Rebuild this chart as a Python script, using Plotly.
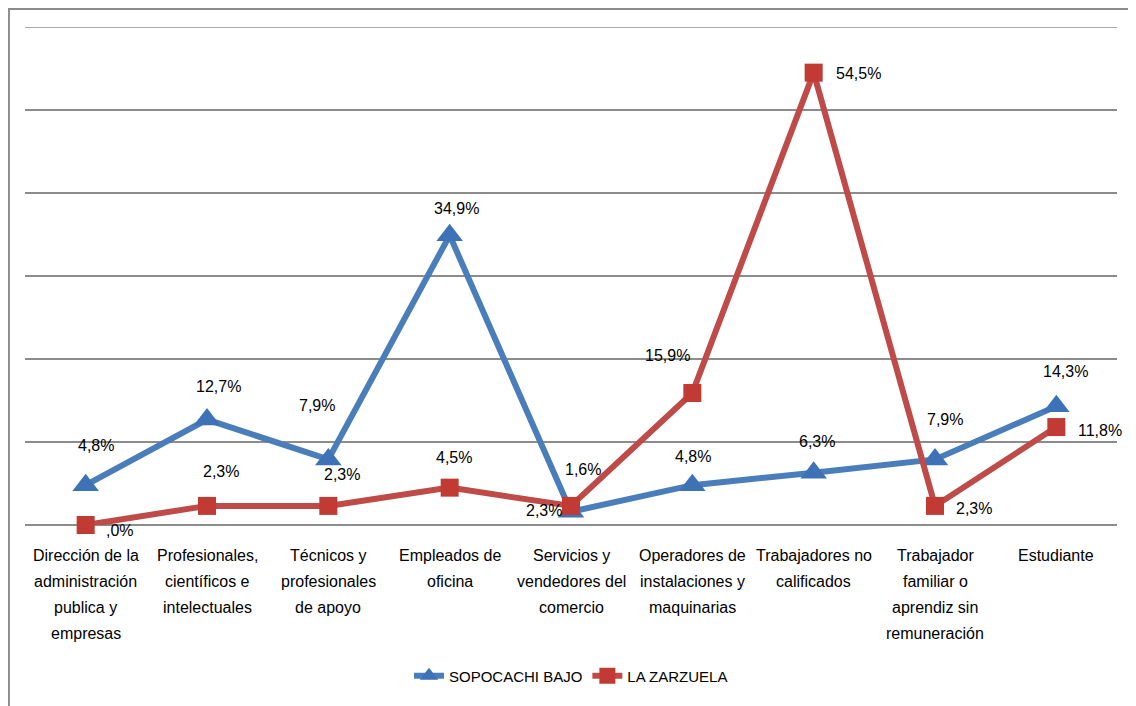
import plotly.graph_objects as go

categories = [
    "Dirección de la<br>administración<br>publica y<br>empresas",
    "Profesionales,<br>científicos e<br>intelectuales",
    "Técnicos y<br>profesionales<br>de apoyo",
    "Empleados de<br>oficina",
    "Servicios y<br>vendedores del<br>comercio",
    "Operadores de<br>instalaciones y<br>maquinarias",
    "Trabajadores no<br>calificados",
    "Trabajador<br>familiar o<br>aprendiz sin<br>remuneración",
    "Estudiante",
]
sopocachi = [4.8, 12.7, 7.9, 34.9, 1.6, 4.8, 6.3, 7.9, 14.3]
zarzuela = [0.0, 2.3, 2.3, 4.5, 2.3, 15.9, 54.5, 2.3, 11.8]
sopocachi_labels = ["4,8%", "12,7%", "7,9%", "34,9%", "1,6%", "4,8%", "6,3%", "7,9%", "14,3%"]
zarzuela_labels = [",0%", "2,3%", "2,3%", "4,5%", "2,3%", "15,9%", "54,5%", "2,3%", "11,8%"]
y_ticks = [0, 10, 20, 30, 40, 50, 60]

# label pixel offsets (dx, dy up)
sop_off = [(10, 40), (11, 33), (-11, 54), (7, 27), (12, 42), (1, 29), (3, 31), (10, 40), (9, 35)]
zar_off = [(34, -5), (14, 34), (14, 31), (4, 30), (-27, -5), (-25, 38), (45, -1), (39, -3), (44, -3)]

BLUE_LINE = "#4A7EBB"
BLUE_MK = "#3E72B6"
RED_LINE = "#BE4B48"
RED_MK = "#C23A34"
GRID = "#8C8C8C"
FONT = "Liberation Sans Narrow, Liberation Sans, Arial"
LBL_FONT = dict(family="Liberation Sans", size=16, color="#000")

xs = list(range(len(categories)))
fig = go.Figure()
fig.add_trace(go.Scatter(
    x=xs, y=sopocachi, name="SOPOCACHI BAJO", mode="lines+markers", cliponaxis=False,
    line=dict(color=BLUE_LINE, width=6),
    marker=dict(symbol="triangle-up", size=23, color=BLUE_MK),
))
fig.add_trace(go.Scatter(
    x=xs, y=zarzuela, name="LA ZARZUELA", mode="lines+markers", cliponaxis=False,
    line=dict(color=RED_LINE, width=6),
    marker=dict(symbol="square", size=18, color=RED_MK),
))

ann = []
for i, (v, t) in enumerate(zip(sopocachi, sopocachi_labels)):
    dx, dy = sop_off[i]
    ann.append(dict(x=i, y=v, text=t, showarrow=False, xshift=dx, yshift=dy, font=LBL_FONT))
for i, (v, t) in enumerate(zip(zarzuela, zarzuela_labels)):
    dx, dy = zar_off[i]
    ann.append(dict(x=i, y=v, text=t, showarrow=False, xshift=dx, yshift=dy, font=LBL_FONT))

# category labels, one annotation per line for line spacing
for i, c in enumerate(categories):
    for k, line in enumerate(c.split("<br>")):
        ann.append(dict(x=i, xref="x", y=0, yref="paper", text=line, showarrow=False,
                        yanchor="middle", yshift=-30 - 26 * k,
                        font=dict(family=FONT, size=16, color="#000")))

# page body has an 8px margin: compensate so the plot area lands at x 25..1117, y 27..525
fig.update_layout(
    width=1128, height=698,
    margin=dict(l=17, r=19, t=19, b=181),
    paper_bgcolor="white", plot_bgcolor="white",
    showlegend=True,
    legend=dict(orientation="h", x=0.5, xanchor="center", y=-0.303, yanchor="middle",
                font=dict(family=FONT, size=15, color="#000"),
                traceorder="normal"),
    annotations=ann,
    shapes=[
        dict(type="rect", xref="paper", yref="paper", x0=-0.0147, x1=1.05,
             y0=-0.4, y1=1.0361, line=dict(color="#8C8C8C", width=2),
             fillcolor="rgba(0,0,0,0)", layer="below"),
        dict(type="line", xref="paper", yref="y", x0=0, x1=1, y0=y_ticks[-1], y1=y_ticks[-1],
             line=dict(color=GRID, width=1.5), layer="below"),
    ],
)
fig.update_xaxes(range=[-0.5, 8.5], tickvals=xs, ticktext=[""] * len(xs),
                 showgrid=False, zeroline=False, showline=False, ticks="")
fig.update_yaxes(range=[0, 60], tickvals=y_ticks, showticklabels=False,
                 showgrid=True, gridcolor=GRID, gridwidth=1.5,
                 zeroline=True, zerolinecolor=GRID, zerolinewidth=1.5,
                 showline=False)

fig.write_html("out.html")
